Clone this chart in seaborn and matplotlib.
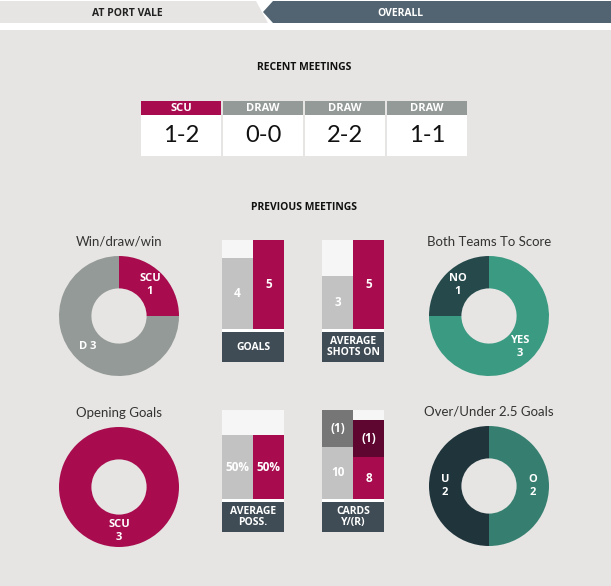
import matplotlib
matplotlib.use("Agg")
import matplotlib.pyplot as plt
import seaborn as sns
import numpy as np
import pandas as pd
from matplotlib.patches import Rectangle, Polygon

# recent meetings
recent_results = ["SCU", "DRAW", "DRAW", "DRAW"]
recent_scores = ["1-2", "0-0", "2-2", "1-1"]

# donuts
wdw_labels = ["SCU\n1", "D 3"]
wdw_values = [1, 3]
btts_labels = ["YES\n3", "NO\n1"]
btts_values = [3, 1]
opening_labels = ["SCU\n3"]
opening_values = [3]
ou_labels = ["O\n2", "U\n2"]
ou_values = [2, 2]

# bars (home, away)
sides = ["Port Vale", "SCU"]
goals = [4, 5]
shots_on = [3, 5]
possession = [50, 50]
cards_yellow = [10, 8]
cards_red = [1, 1]
red_weight = 7

W, H = 611, 586
BG = "#e6e5e3"
MAROON = "#a80c4e"
DARK_MAROON = "#5e0530"
DRAW_GRAY = "#949a97"
BAR_GRAY = "#c2c2c2"
BAR_BG = "#f6f6f6"
LABEL_BOX = "#3f4c55"
FONT = ["Lato", "DejaVu Sans"]
BOLD = ["Open Sans", "DejaVu Sans"]

sns.set_style("white")
plt.rcParams["font.family"] = FONT

fig = plt.figure(figsize=(W / 100, H / 100), dpi=100)
fig.patch.set_facecolor("white")
main = fig.add_axes([0, 0, 1, 1])
main.set_xlim(0, W)
main.set_ylim(H, 0)
main.axis("off")

# background + tabs
main.add_patch(Rectangle((0, 30), W, H - 30, color=BG, lw=0))
main.add_patch(Polygon([(0, 1), (256, 1), (268, 23), (0, 23)], closed=True, color=BG, lw=0))
main.add_patch(Polygon([(273, 1), (W, 1), (W, 23), (273, 23), (263, 12)], closed=True,
                       color="#526471", lw=0))
main.text(127, 13, "AT PORT VALE", ha="center", va="center", fontsize=7.5,
          fontweight="bold", color="#222222", family=BOLD)
main.text(400, 13, "OVERALL", ha="center", va="center", fontsize=7.5,
          fontweight="bold", color="white", family=BOLD)

main.text(304, 68, "RECENT MEETINGS", ha="center", va="center", fontsize=7.5,
          fontweight="bold", color="#111111", family=BOLD)
main.text(304, 208, "PREVIOUS MEETINGS", ha="center", va="center", fontsize=7.5,
          fontweight="bold", color="#111111", family=BOLD)

# recent meeting boxes
box_x = [141, 223, 305, 387]
for x0, res, score in zip(box_x, recent_results, recent_scores):
    head = MAROON if res == "SCU" else DRAW_GRAY
    main.add_patch(Rectangle((x0, 101), 80, 14, color=head, lw=0))
    main.add_patch(Rectangle((x0, 115), 80, 41, color="white", lw=0))
    main.text(x0 + 40, 108.5, res, ha="center", va="center", fontsize=8,
              fontweight="bold", color="white", family=BOLD)
    main.text(x0 + 40, 136, score, ha="center", va="center", fontsize=17,
              color="#111111")


def px_axes(x0, y0, w, h):
    return fig.add_axes([x0 / W, 1 - (y0 + h) / H, w / W, h / H])


def donut(cx, cy, values, labels, colors, title):
    ax = px_axes(cx - 60, cy - 60, 120, 120)
    wedges, _ = ax.pie(values, colors=colors, startangle=90, counterclock=False,
                       radius=1, wedgeprops=dict(width=0.54, linewidth=0))
    ax.set_xlim(-1, 1)
    ax.set_ylim(-1, 1)
    ax.set_aspect("equal")
    ax.axis("off")
    for w, lab in zip(wedges, labels):
        ang = np.deg2rad((w.theta1 + w.theta2) / 2)
        ax.text(0.73 * np.cos(ang), 0.73 * np.sin(ang), lab, ha="center", va="center",
                fontsize=8, fontweight="bold", color="white", linespacing=1.25,
                family=BOLD)
    main.text(cx, cy - 74, title, ha="center", va="center", fontsize=9.5, color="#333333")


donut(119, 316, wdw_values, wdw_labels, [MAROON, DRAW_GRAY], "Win/draw/win")
donut(489, 316, btts_values, btts_labels, ["#3a9a82", "#264a4c"], "Both Teams To Score")
donut(119, 487, opening_values, opening_labels, [MAROON], "Opening Goals")
donut(489, 486, ou_values, ou_labels, ["#367f70", "#1f343b"], "Over/Under 2.5 Goals")


def bar_panel(x0, y0, values, ymax, texts, caption, colors=(BAR_GRAY, MAROON)):
    ax = px_axes(x0, y0, 62, 89)
    df = pd.DataFrame({"side": sides, "v": values})
    sns.barplot(x=sides, y=[ymax, ymax], color=BAR_BG, width=0.968, saturation=1,
                linewidth=0, ax=ax)
    sns.barplot(data=df, x="side", y="v", hue="side", palette=list(colors), width=0.968,
                saturation=1, linewidth=0, legend=False, ax=ax)
    ax.set_xlim(-0.5, 1.5)
    ax.set_ylim(0, ymax)
    ax.axis("off")
    for i, (v, t) in enumerate(zip(values, texts)):
        ax.text(i, v / 2, t, ha="center", va="center", fontsize=8.5,
                fontweight="bold", color="white", family=BOLD)
    main.add_patch(Rectangle((x0, y0 + 89), 62, 3, color="white", lw=0))
    main.add_patch(Rectangle((x0, y0 + 92), 62, 30, color=LABEL_BOX, lw=0))
    main.text(x0 + 31, y0 + 107, caption, ha="center", va="center", fontsize=7.5,
              fontweight="bold", color="white", linespacing=1.0, family=BOLD)
    return ax


bar_panel(222, 240, goals, 5, [str(v) for v in goals], "GOALS")
bar_panel(322, 240, shots_on, 5, [str(v) for v in shots_on], "AVERAGE\nSHOTS ON")
bar_panel(222, 410, possession, 70, [f"{v}%" for v in possession], "AVERAGE\nPOSS.")

# cards: red cards stacked above yellow (red weighted)
card_totals = [y + red_weight * r for y, r in zip(cards_yellow, cards_red)]
ymax_cards = max(card_totals)
ax = bar_panel(322, 410, card_totals, ymax_cards, ["", ""], "CARDS\nY/(R)",
               colors=("#767676", DARK_MAROON))
df_y = pd.DataFrame({"side": sides, "v": cards_yellow})
sns.barplot(data=df_y, x="side", y="v", hue="side", palette=[BAR_GRAY, MAROON],
            width=0.968, saturation=1, linewidth=0, legend=False, ax=ax)
ax.set_xlim(-0.5, 1.5)
ax.set_ylim(0, ymax_cards)
ax.axis("off")
for i, (y, r, t) in enumerate(zip(cards_yellow, cards_red, card_totals)):
    ax.text(i, y / 2, str(y), ha="center", va="center", fontsize=8.5,
            fontweight="bold", color="white", family=BOLD)
    ax.text(i, (y + t) / 2, f"({r})", ha="center", va="center", fontsize=8.5,
            fontweight="bold", color="white", family=BOLD)

fig.savefig("out.png", dpi=100, facecolor=fig.get_facecolor())
